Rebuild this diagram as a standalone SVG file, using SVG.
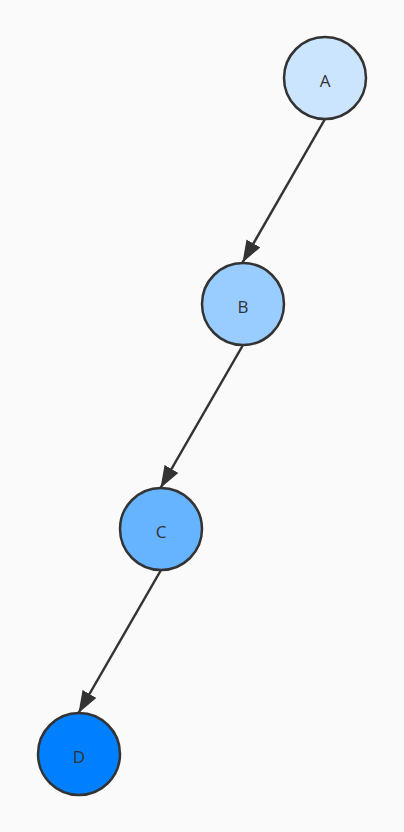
<svg xmlns="http://www.w3.org/2000/svg" width="404" height="832" viewBox="0 0 404 832">
<style>
.n{stroke:#333;stroke-width:2.5}
.t{font-family:"Open Sans","Noto Sans",sans-serif;font-size:17px;fill:#333;text-anchor:middle;dominant-baseline:central}
.e{stroke:#333;stroke-width:2.5;fill:none}
</style>
<defs>
<marker id="ah" viewBox="0 0 22 16" refX="22" refY="8" markerWidth="22" markerHeight="16" markerUnits="userSpaceOnUse" orient="auto">
<path d="M0,0 L22,8 L0,16 Z" fill="#333"/>
</marker>
</defs>
<rect width="404" height="832" fill="#fafafa"/>
<g id="edges">
<line class="e" x1="325" y1="119" x2="242.5" y2="262.5" marker-end="url(#ah)"/>
<line class="e" x1="243" y1="345" x2="160.5" y2="488" marker-end="url(#ah)"/>
<line class="e" x1="161" y1="570" x2="78.5" y2="713" marker-end="url(#ah)"/>
</g>
<g id="A"><circle class="n" cx="325" cy="78" r="41" fill="#cce5ff"/><text class="t" x="325" y="80">A</text></g>
<g id="B"><circle class="n" cx="243" cy="304" r="41" fill="#99ccff"/><text class="t" x="243" y="306">B</text></g>
<g id="C"><circle class="n" cx="161" cy="529" r="41" fill="#66b3ff"/><text class="t" x="161" y="531">C</text></g>
<g id="D"><circle class="n" cx="79" cy="754" r="41" fill="#0080ff"/><text class="t" x="79" y="756">D</text></g>
</svg>
